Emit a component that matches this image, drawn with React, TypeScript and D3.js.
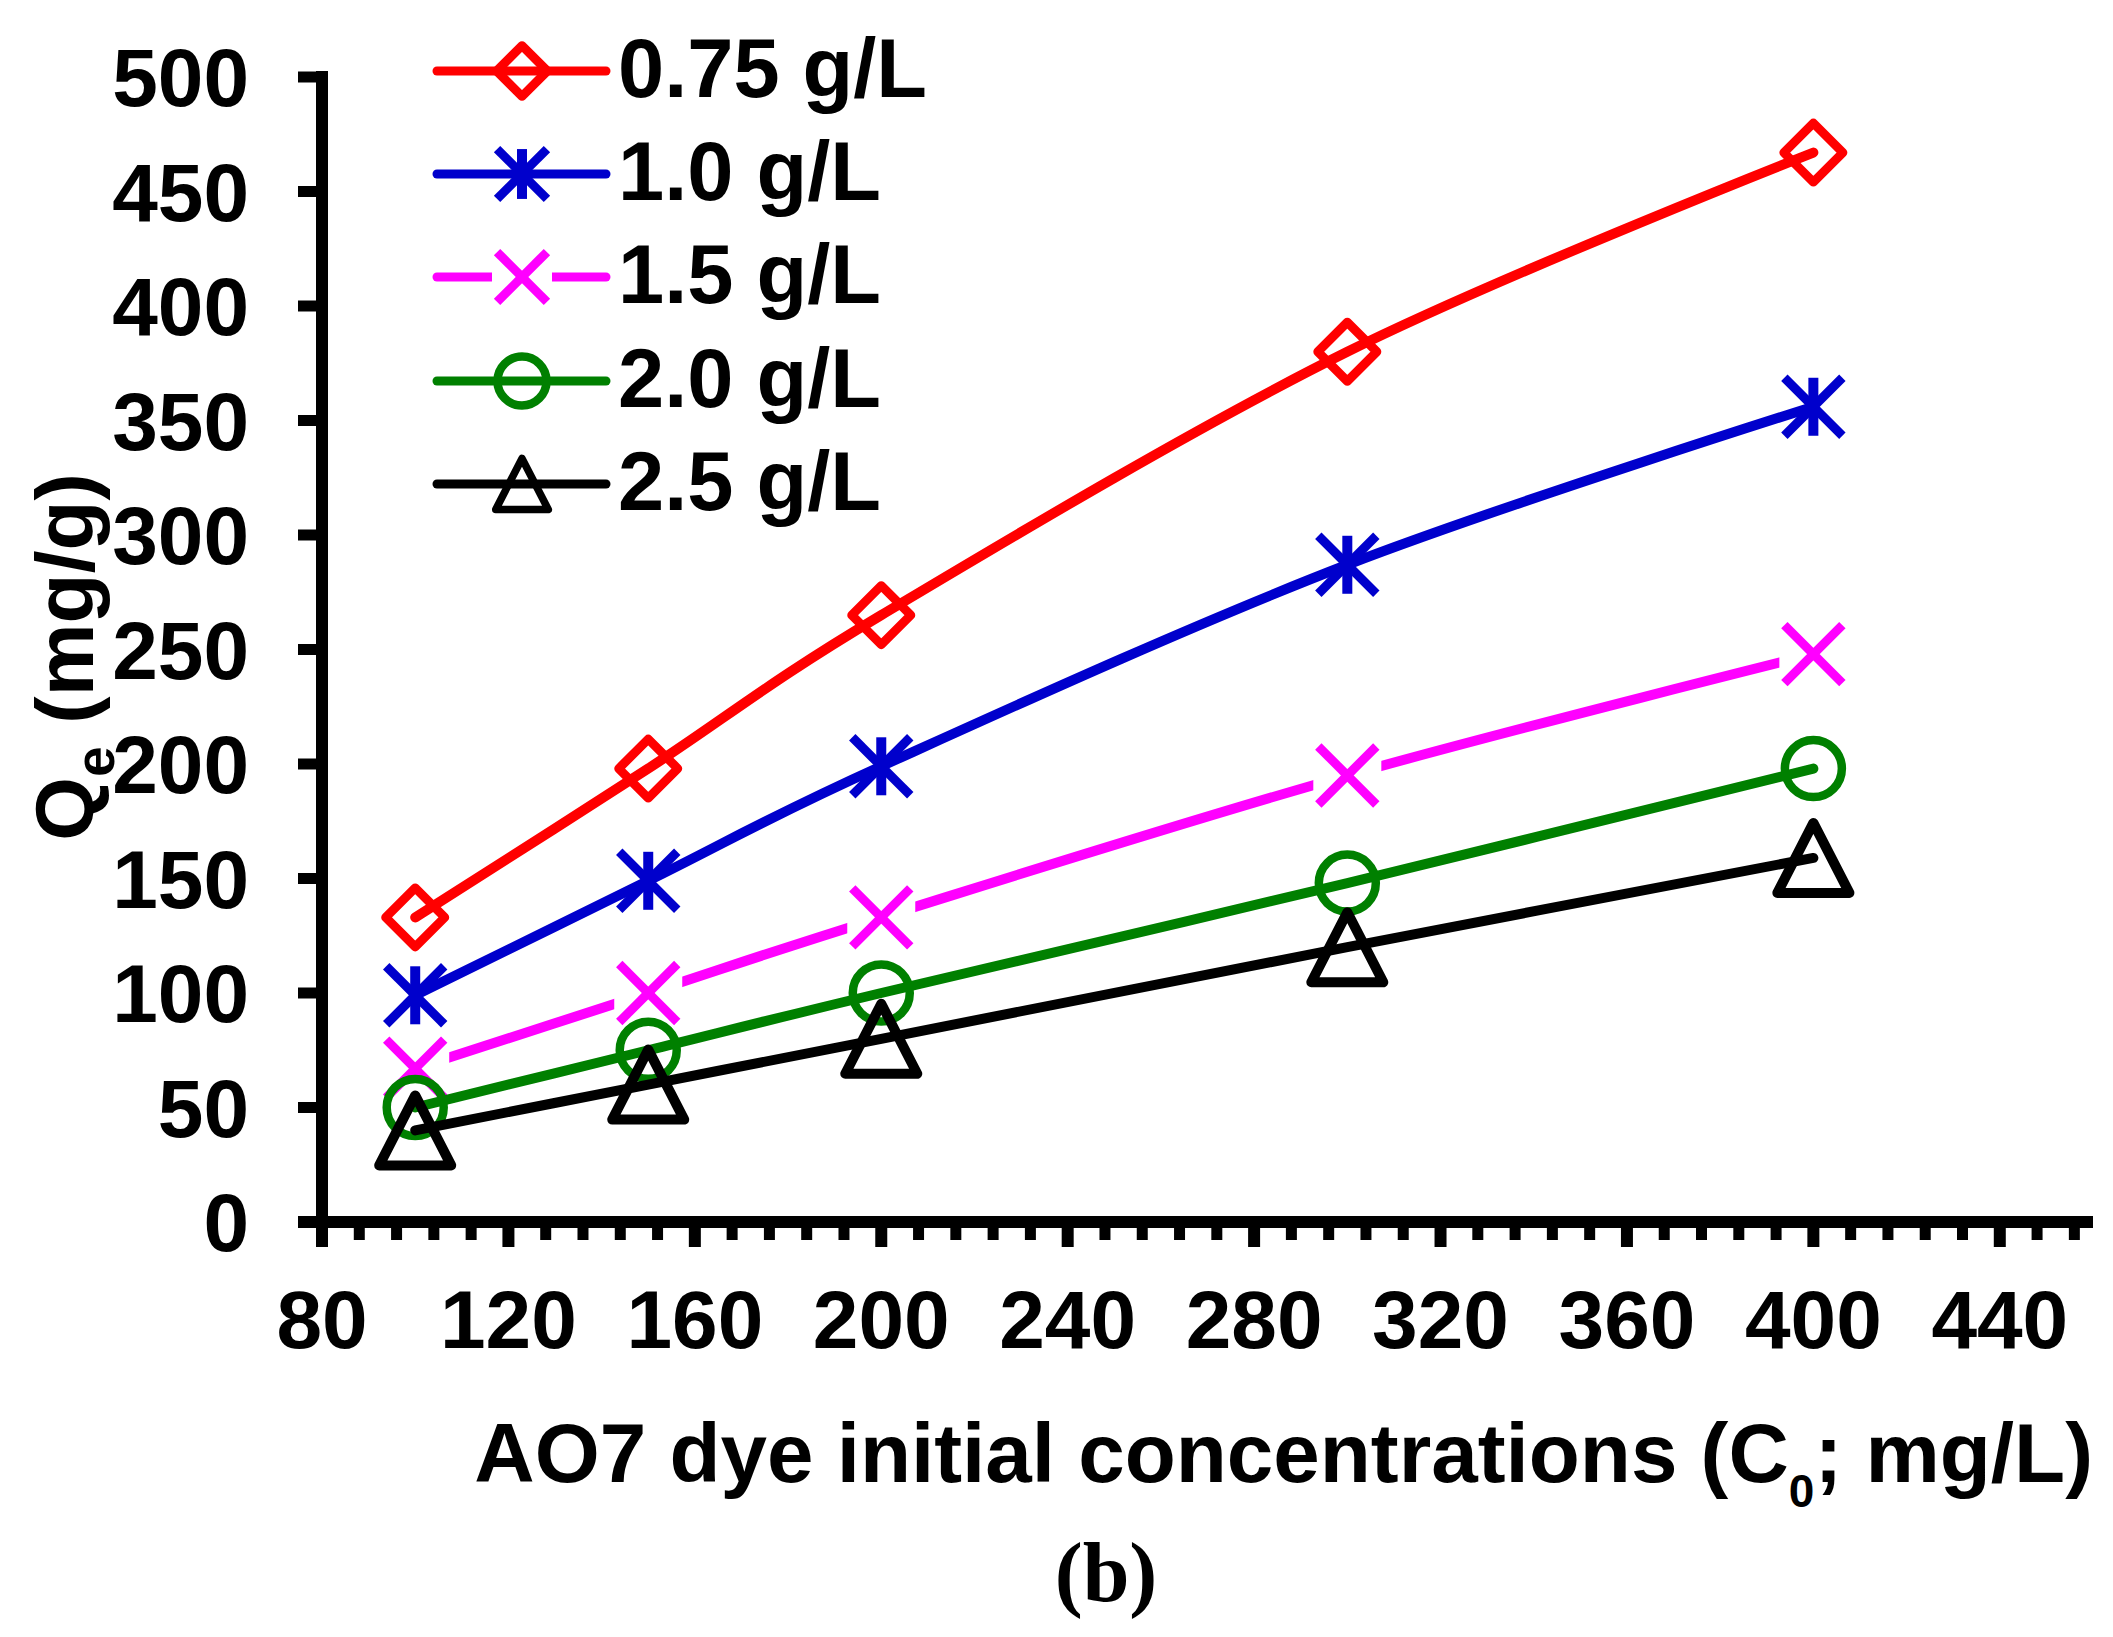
import React from "react";
import * as d3 from "d3";

const concentrations = [100, 150, 200, 300, 400];
const seriesNames = ["0.75 g/L", "1.0 g/L", "1.5 g/L", "2.0 g/L", "2.5 g/L"];
const qe075 = [133, 198, 265, 380, 467];
const qe10 = [99, 149, 199, 287, 356];
const qe15 = [67, 100, 133, 195, 248];
const qe20 = [50, 75, 100, 148, 198];
const qe25 = [40, 60, 80, 120, 159];
const xTicks = [80, 120, 160, 200, 240, 280, 320, 360, 400, 440];
const yTicks = [0, 50, 100, 150, 200, 250, 300, 350, 400, 450, 500];

const W = 2113;
const H = 1637;
const FONT = "'Liberation Sans', Arial, sans-serif";

type MarkerKind = "diamond" | "star" | "x" | "circle" | "triangle";

const seriesDefs: { name: string; values: number[]; color: string; marker: MarkerKind }[] = [
  { name: seriesNames[0], values: qe075, color: "#FF0000", marker: "diamond" },
  { name: seriesNames[1], values: qe10, color: "#0000CC", marker: "star" },
  { name: seriesNames[2], values: qe15, color: "#FF00FF", marker: "x" },
  { name: seriesNames[3], values: qe20, color: "#008000", marker: "circle" },
  { name: seriesNames[4], values: qe25, color: "#000000", marker: "triangle" },
];

function Marker({ kind, x, y, color, s }: { kind: MarkerKind; x: number; y: number; color: string; s: number }) {
  if (kind === "diamond") {
    const r = 29.5 * s;
    return (
      <path
        d={`M${x},${y - r}L${x + r},${y}L${x},${y + r}L${x - r},${y}Z`}
        fill="none"
        stroke={color}
        strokeWidth={9}
        strokeLinejoin="round"
      />
    );
  }
  if (kind === "star") {
    const r = 29 * s;
    return (
      <g stroke={color} fill="none">
        <line x1={x} y1={y - r} x2={x} y2={y + r} strokeWidth={10} />
        <line x1={x - r} y1={y - r} x2={x + r} y2={y + r} strokeWidth={9} />
        <line x1={x - r} y1={y + r} x2={x + r} y2={y - r} strokeWidth={9} />
      </g>
    );
  }
  if (kind === "x") {
    const r = 29 * s;
    return (
      <g stroke={color} fill="none">
        <line x1={x - r} y1={y - r} x2={x + r} y2={y + r} strokeWidth={9} />
        <line x1={x - r} y1={y + r} x2={x + r} y2={y - r} strokeWidth={9} />
      </g>
    );
  }
  if (kind === "circle") {
    return <circle cx={x} cy={y} r={28.5 * s} fill="none" stroke={color} strokeWidth={8.5} />;
  }
  const hh = 35 * s;
  const hw = 36 * s;
  return (
    <path
      d={`M${x},${y - hh}L${x + hw},${y + hh}L${x - hw},${y + hh}Z`}
      fill="none"
      stroke={color}
      strokeWidth={s < 1 ? 7.5 : 10}
      strokeLinejoin="round"
    />
  );
}

export default function App() {
  const x = d3.scaleLinear().domain([80, 460]).range([322, 2093]);
  const y = d3.scaleLinear().domain([0, 500]).range([1222, 77]);

  const line = d3
    .line<number>()
    .x((_, i) => x(concentrations[i]))
    .y((d) => y(d))
    .curve(d3.curveCardinal.tension(0));

  const minorTicks = d3.range(80, 460, 8).filter((v) => (v - 80) % 40 !== 0);

  const legendX0 = 437;
  const legendX1 = 606;
  const legendMX = 522;
  const legendRows = [71, 174, 277, 381, 484];

  return (
    <svg
      width={W}
      height={H}
      viewBox={`0 0 ${W} ${H}`}
      style={{ position: "absolute", left: 0, top: 0, background: "#fff" }}
    >
      <defs>
        <mask id="pinkMask" maskUnits="userSpaceOnUse" x={0} y={0} width={W} height={H}>
          <rect x={0} y={0} width={W} height={H} fill="#fff" />
          {concentrations.map((c, i) => (
            <rect key={i} x={x(c) - 34} y={y(qe15[i]) - 34} width={68} height={68} fill="#000" />
          ))}
          <rect x={legendMX - 30} y={legendRows[2] - 30} width={60} height={60} fill="#000" />
        </mask>
      </defs>
      <rect x={0} y={0} width={W} height={H} fill="#fff" />

      {/* Y axis */}
      <line x1={322} y1={71} x2={322} y2={1228} stroke="#000" strokeWidth={12} />
      {yTicks.map((t) => (
        <g key={t}>
          <line x1={298} y1={y(t)} x2={322} y2={y(t)} stroke="#000" strokeWidth={11} />
          <text
            x={249}
            y={y(t) + 29}
            textAnchor="end"
            fontFamily={FONT}
            fontWeight="bold"
            fontSize={82}
            fill="#000"
          >
            {t}
          </text>
        </g>
      ))}

      {/* X axis */}
      <line x1={298} y1={1222} x2={2093} y2={1222} stroke="#000" strokeWidth={12} />
      {minorTicks.map((t) => (
        <line key={"m" + t} x1={x(t)} y1={1222} x2={x(t)} y2={1240} stroke="#000" strokeWidth={11} />
      ))}
      {xTicks.map((t) => (
        <g key={t}>
          <line x1={x(t)} y1={1222} x2={x(t)} y2={1247} stroke="#000" strokeWidth={12} />
          <text
            x={x(t)}
            y={1348}
            textAnchor="middle"
            fontFamily={FONT}
            fontWeight="bold"
            fontSize={82}
            fill="#000"
          >
            {t}
          </text>
        </g>
      ))}

      {/* Series */}
      {seriesDefs.map((s) => (
        <g key={s.name}>
          <path
            d={line(s.values) || ""}
            fill="none"
            stroke={s.color}
            strokeWidth={10}
            strokeLinecap="round"
            strokeLinejoin="round"
            mask={s.marker === "x" ? "url(#pinkMask)" : undefined}
          />
          {s.values.map((v, i) => (
            <Marker key={i} kind={s.marker} x={x(concentrations[i])} y={y(v)} color={s.color} s={1} />
          ))}
        </g>
      ))}

      {/* Legend */}
      {seriesDefs.map((s, i) => (
        <g key={"lg" + s.name}>
          <line
            x1={legendX0}
            y1={legendRows[i]}
            x2={legendX1}
            y2={legendRows[i]}
            stroke={s.color}
            strokeWidth={9}
            strokeLinecap="round"
            mask={s.marker === "x" ? "url(#pinkMask)" : undefined}
          />
          <Marker kind={s.marker} x={legendMX} y={legendRows[i]} color={s.color} s={s.marker === "triangle" ? 0.73 : 0.86} />
          <text
            x={618}
            y={legendRows[i] + 26}
            fontFamily={FONT}
            fontWeight="bold"
            fontSize={83}
            fill="#000"
          >
            {s.name}
          </text>
        </g>
      ))}

      {/* Y title */}
      <text
        transform="translate(93,657) rotate(-90)"
        textAnchor="middle"
        fontFamily={FONT}
        fontWeight="bold"
        fontSize={82}
        fill="#000"
      >
        Q<tspan fontSize={55} dy={21}>e</tspan>
        <tspan dy={-21}> (mg/g)</tspan>
      </text>

      {/* X title */}
      <text
        x={2093}
        y={1482}
        textAnchor="end"
        fontFamily={FONT}
        fontWeight="bold"
        fontSize={83.6}
        fill="#000"
      >
        AO7 dye initial concentrations (C<tspan fontSize={46} dy={25}>0</tspan>
        <tspan dy={-25}>; mg/L)</tspan>
      </text>

      {/* Panel label */}
      <text
        x={1106}
        y={1601}
        textAnchor="middle"
        fontFamily="'Liberation Serif', 'Times New Roman', serif"
        fontWeight="bold"
        fontSize={84}
        fill="#000"
      >
        (b)
      </text>
    </svg>
  );
}
